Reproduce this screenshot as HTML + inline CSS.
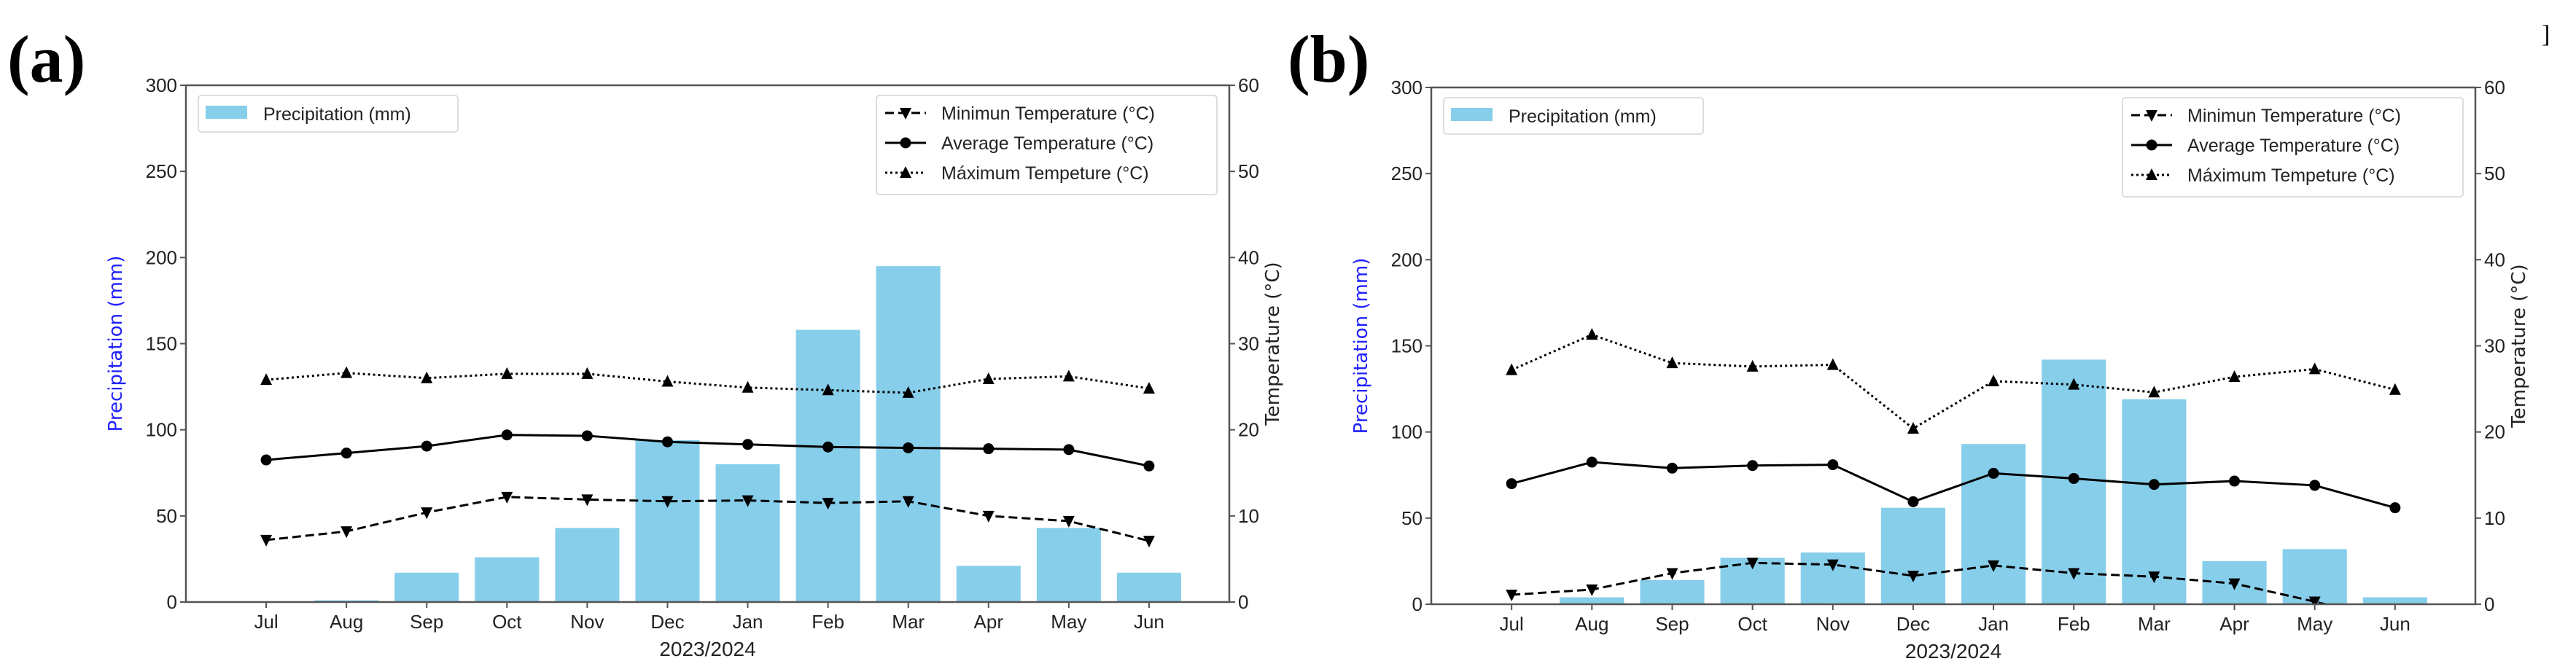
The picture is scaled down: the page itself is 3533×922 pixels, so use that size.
<!DOCTYPE html>
<html><head><meta charset="utf-8"><style>
html,body{margin:0;padding:0;background:#fff;}
svg{display:block;font-family:"Liberation Sans Narrow","Liberation Sans",sans-serif;}
</style></head><body>
<svg id="chart" width="3533" height="922" viewBox="0 0 3533 922" xmlns="http://www.w3.org/2000/svg"></svg>
<script>
const months = ["Jul","Aug","Sep","Oct","Nov","Dec","Jan","Feb","Mar","Apr","May","Jun"];
const leftTicks = [0,50,100,150,200,250,300];
const rightTicks = [0,10,20,30,40,50,60];
const precipA = [0,1,17,26,43,94,80,158,195,21,43,17];
const minA = [7.2,8.2,10.4,12.2,11.9,11.7,11.8,11.5,11.7,10.0,9.4,7.1];
const avgA = [16.5,17.3,18.1,19.4,19.3,18.6,18.3,18.0,17.9,17.8,17.7,15.8];
const maxA = [25.8,26.6,26.0,26.5,26.5,25.6,24.9,24.6,24.3,25.9,26.2,24.8];
const precipB = [0,4,14,27,30,56,93,142,119,25,32,4];
const minB = [1.1,1.7,3.6,4.8,4.6,3.3,4.5,3.6,3.2,2.4,0.3,-2];
const avgB = [14.0,16.5,15.8,16.1,16.2,11.9,15.2,14.6,13.9,14.3,13.8,11.2];
const maxB = [27.2,31.3,28.0,27.6,27.8,20.4,25.9,25.5,24.6,26.4,27.3,24.9];

const NS="http://www.w3.org/2000/svg";
const svg=document.getElementById('chart');
function mk(tag,attrs,parent,text){const e=document.createElementNS(NS,tag);for(const k in attrs)e.setAttribute(k,attrs[k]);if(text!==undefined)e.textContent=text;(parent||svg).appendChild(e);return e;}

function panel(id,L,R,T,B,precip,mn,av,mx,label,labelX){
  const g=mk('g',{});
  
  
  const clipId='clip'+id;
  const defs=mk('defs',{},g);const cp=mk('clipPath',{id:clipId},defs);mk('rect',{x:L,y:T,width:R-L,height:B-T},cp);
  const x=i=>L+(i+1)*(R-L)/13;
  const yl=v=>B-v/300*(B-T);
  const yr=v=>B-v/60*(B-T);
  const bw=0.8*(R-L)/13;
  const lab=mk('text',{x:labelX,y:112,'font-family':'Liberation Serif, serif','font-weight':'bold','font-size':92,fill:'#000'},g,label);
  
  
  const bars=mk('g',{'clip-path':'url(#'+clipId+')'},g);
  precip.forEach((v,i)=>{
    const r=mk('rect',{x:x(i)-bw/2,y:yl(v),width:bw,height:Math.max(0,B-yl(v)),fill:'#87CEEB'},bars);
    
    
  });
  const lines=mk('g',{'clip-path':'url(#'+clipId+')'},g);
  function series(arr,dash,marker,name){
    const sg=mk('g',{},lines);
    
    
    mk('polyline',{points:arr.map((v,i)=>x(i)+','+yr(v)).join(' '),fill:'none',stroke:'#000','stroke-width':3,'stroke-dasharray':dash},sg);
    arr.forEach((v,i)=>{
      const cx=x(i),cy=yr(v);let m;
      if(marker==='down')m=mk('polygon',{points:`${cx-8},${cy-7} ${cx+8},${cy-7} ${cx},${cy+9}`,fill:'#000'},sg);
      else if(marker==='up')m=mk('polygon',{points:`${cx-8},${cy+7} ${cx+8},${cy+7} ${cx},${cy-9}`,fill:'#000'},sg);
      else m=mk('circle',{cx:cx,cy:cy,r:7.5,fill:'#000'},sg);
      
      
    });
  }
  series(mx,'3,4','up','max-temp-line');
  series(av,'none','circle','avg-temp-line');
  series(mn,'12,6','down','min-temp-line');
  const fr=mk('rect',{x:L,y:T,width:R-L,height:B-T,fill:'none',stroke:'#555','stroke-width':2.5},g);
  
  
  leftTicks.forEach(v=>{
    mk('line',{x1:L-8,x2:L,y1:yl(v),y2:yl(v),stroke:'#555','stroke-width':2},g);
    const t=mk('text',{x:L-12,y:yl(v)+9,'text-anchor':'end','font-size':26,fill:'#222'},g,v);
    
    
  });
  rightTicks.forEach(v=>{
    mk('line',{x1:R,x2:R+8,y1:yr(v),y2:yr(v),stroke:'#555','stroke-width':2},g);
    const t=mk('text',{x:R+12,y:yr(v)+9,'font-size':26,fill:'#222'},g,v);
    
    
  });
  months.forEach((m,i)=>{
    mk('line',{x1:x(i),x2:x(i),y1:B,y2:B+8,stroke:'#555','stroke-width':2},g);
    const t=mk('text',{x:x(i),y:B+36,'text-anchor':'middle','font-size':26,fill:'#222'},g,m);
    
    
  });
  const xt=mk('text',{x:(L+R)/2,y:B+74,'text-anchor':'middle','font-size':28,fill:'#222'},g,'2023/2024');
  
  
  const cy=(T+B)/2;
  const ylab=mk('text',{x:L-88,y:cy,'text-anchor':'middle','font-family':'DejaVu Sans, sans-serif','font-size':26,fill:'#2020ff',transform:`rotate(-90 ${L-88} ${cy})`},g,'Precipitation (mm)');
  
  
  const yr2=mk('text',{x:R+68,y:cy,'text-anchor':'middle','font-family':'DejaVu Sans, sans-serif','font-size':26,fill:'#222',transform:`rotate(-90 ${R+68} ${cy})`},g,'Temperature (°C)');
  
  
  const lg1=mk('g',{},g);
  
  
  mk('rect',{x:L+17,y:T+14,width:356,height:50,rx:4,fill:'#fff',stroke:'#ddd','stroke-width':2},lg1);
  mk('rect',{x:L+27,y:T+28,width:57,height:18,fill:'#87CEEB'},lg1);
  mk('text',{x:L+106,y:T+48,'font-size':25,fill:'#222'},lg1,'Precipitation (mm)');
  const lg2=mk('g',{},g);
  
  
  const lx=R-484;
  mk('rect',{x:lx,y:T+14,width:467,height:136,rx:4,fill:'#fff',stroke:'#ddd','stroke-width':2},lg2);
  const rows=[['Minimun Temperature (°C)','12,6','down'],['Average Temperature (°C)','none','circle'],['Máximum Tempeture (°C)','3,4','up']];
  rows.forEach((r,k)=>{
    const yy=T+38+k*41;
    mk('line',{x1:lx+12,x2:lx+68,y1:yy,y2:yy,stroke:'#000','stroke-width':3,'stroke-dasharray':r[1]},lg2);
    const cx=lx+40;
    if(r[2]==='down')mk('polygon',{points:`${cx-8},${yy-7} ${cx+8},${yy-7} ${cx},${yy+9}`,fill:'#000'},lg2);
    else if(r[2]==='up')mk('polygon',{points:`${cx-8},${yy+7} ${cx+8},${yy+7} ${cx},${yy-9}`,fill:'#000'},lg2);
    else mk('circle',{cx:cx,cy:yy,r:7.5,fill:'#000'},lg2);
    mk('text',{x:lx+89,y:yy+9,'font-size':25,fill:'#222'},lg2,r[0]);
  });
}
panel('a',255,1686,117,826,precipA,minA,avgA,maxA,'(a)',10);
panel('b',1963,3395,120,829,precipB,minB,avgB,maxB,'(b)',1766);
const br=mk('text',{x:3486,y:58,'font-family':'Liberation Serif, serif','font-size':34,fill:'#000'},svg,']');


</script>
</body></html>
